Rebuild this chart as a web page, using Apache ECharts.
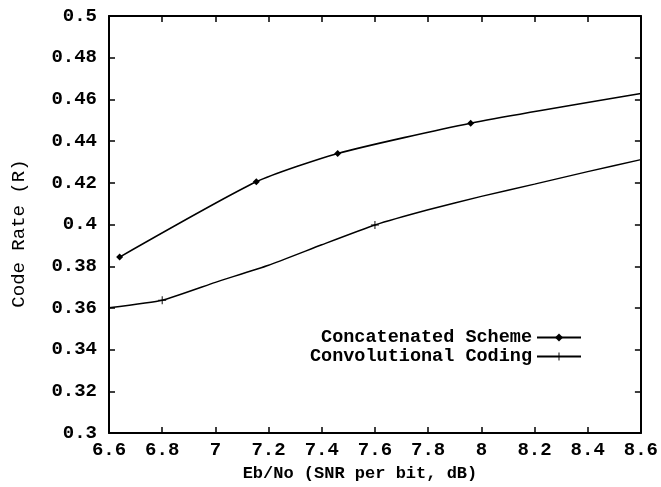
<!DOCTYPE html>
<html>
<head>
<meta charset="utf-8">
<script src="https://cdn.jsdelivr.net/npm/echarts@6/dist/echarts.min.js"></script>
<style>
  html, body { margin: 0; padding: 0; background: #fff; }
  #chart { width: 661px; height: 487px; }
</style>
</head>
<body>
<div id="chart"></div>
<script>
  // concatenated scheme (diamond markers at every point except the right end)
  var concatX = [6.64, 7.154, 7.46, 7.96, 8.6]
  var concatY = [0.3844, 0.4205, 0.4341, 0.4486, 0.4628]
  var concatMarkX = [6.64, 7.154, 7.46, 7.96]

  // convolutional coding
  var convX = [6.6, 6.8, 7.0, 7.2, 7.4, 7.6, 7.8, 8.0, 8.2, 8.4, 8.6]
  var convY = [0.3601, 0.3637, 0.3723, 0.3805, 0.3903, 0.3998, 0.4071, 0.4135, 0.4194, 0.4254, 0.4311]
  var convMarkX = [6.8, 7.6]

  var font = 'Liberation Mono'
  var plusPath = 'path://M4.4,0h1.2v4.4h4.4v1.2h-4.4v4.4h-1.2v-4.4h-4.4v-1.2h4.4z'

  function buildData(xs, ys, marks, sym, size) {
    return xs.map(function (x, i) {
      var item = {value: [x, ys[i]]}
      if (marks.indexOf(x) < 0) {
        item.symbol = 'none'
      } else {
        item.symbol = sym
        item.symbolSize = size
      }
      return item
    })
  }

  var axisLine = {show: true, lineStyle: {color: '#000', width: 2}}
  var tick = {show: true, inside: true, length: 6, lineStyle: {color: '#000', width: 1.5}}

  var chart = echarts.init(document.getElementById('chart'))
  chart.setOption({
    animation: false,
    backgroundColor: '#fff',
    grid: {left: 109, right: 19, top: 16, bottom: 46},
    legend: {
      orient: 'vertical',
      right: 79,
      top: 328,
      padding: 0,
      align: 'right',
      itemWidth: 44,
      itemHeight: 10,
      itemGap: 0,
      textStyle: {color: '#000', fontFamily: font, fontSize: 18.5, fontWeight: 'bold'},
      data: ['Concatenated Scheme', 'Convolutional Coding']
    },
    xAxis: [
      {
        type: 'value', min: 6.6, max: 8.6, interval: 0.2,
        name: 'Eb/No (SNR per bit, dB)', nameLocation: 'middle', nameGap: 27,
        nameTextStyle: {color: '#000', fontFamily: font, fontSize: 17, fontWeight: 'bold', padding: [0, 30, 0, 0]},
        axisLine: axisLine, axisTick: tick,
        axisLabel: {
          margin: 8, color: '#000', fontFamily: font, fontSize: 19, fontWeight: 'bold',
          formatter: function (v) { return String(parseFloat(v.toFixed(1))) }
        },
        splitLine: {show: false}
      },
      {
        type: 'value', position: 'top', min: 6.6, max: 8.6, interval: 0.2,
        axisLine: axisLine, axisTick: tick, axisLabel: {show: false}, splitLine: {show: false}
      }
    ],
    yAxis: [
      {
        type: 'value', min: 0.3, max: 0.5, interval: 0.02,
        name: 'Code Rate (R)', nameLocation: 'middle', nameGap: 81, nameRotate: 90,
        nameTextStyle: {color: '#000', fontFamily: font, fontSize: 19, padding: [0, 18, 0, 0]},
        axisLine: axisLine, axisTick: tick,
        axisLabel: {
          margin: 12, color: '#000', fontFamily: font, fontSize: 19, fontWeight: 'bold',
          formatter: function (v) { return String(parseFloat(v.toFixed(2))) }
        },
        splitLine: {show: false}
      },
      {
        type: 'value', position: 'right', min: 0.3, max: 0.5, interval: 0.02,
        axisLine: axisLine, axisTick: tick, axisLabel: {show: false}, splitLine: {show: false}
      }
    ],
    series: [
      {
        name: 'Concatenated Scheme',
        type: 'line',
        smooth: 0.2,
        symbol: 'diamond',
        symbolSize: 7,
        itemStyle: {color: '#000'},
        lineStyle: {color: '#000', width: 1.6},
        data: buildData(concatX, concatY, concatMarkX, 'diamond', 7)
      },
      {
        name: 'Convolutional Coding',
        type: 'line',
        smooth: 0.15,
        symbol: plusPath,
        symbolSize: 8,
        itemStyle: {color: '#000'},
        lineStyle: {color: '#000', width: 1.4},
        data: buildData(convX, convY, convMarkX, plusPath, 8)
      }
    ]
  })
</script>
</body>
</html>
